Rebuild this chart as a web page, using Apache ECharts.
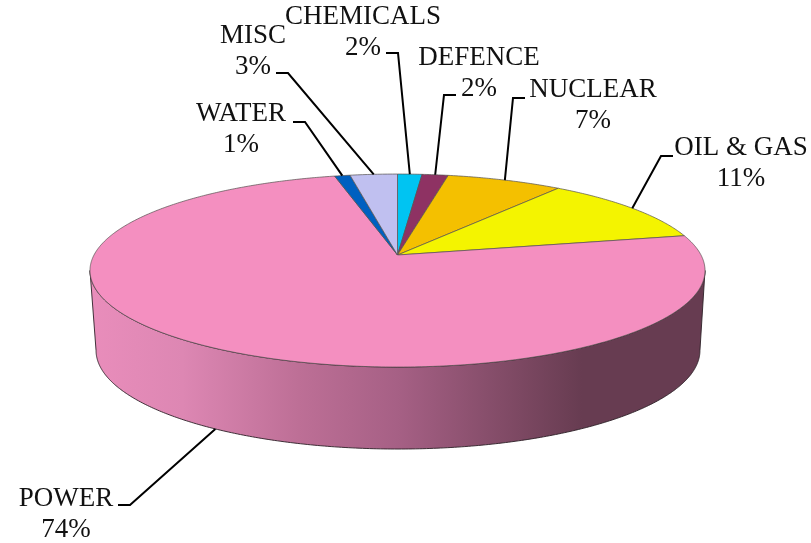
<!DOCTYPE html>
<html>
<head>
<meta charset="utf-8">
<style>html,body{margin:0;padding:0;background:#fff}#c{width:811px;height:543px}</style>
<script src="https://cdn.jsdelivr.net/npm/echarts@6/dist/echarts.min.js"></script>
</head>
<body>
<div id="c"></div>
<script>
// Data, clockwise from the top of the pie
const categories = ['CHEMICALS', 'DEFENCE', 'NUCLEAR', 'OIL & GAS', 'POWER', 'WATER', 'MISC'];
const values = [1.5, 1.6, 7.1, 11.4, 74.55, 0.95, 2.9];
const percentLabels = ['2%', '2%', '7%', '11%', '74%', '1%', '3%'];

// Styling and layout, per category
const sliceColors = ['#00c4f2', '#8e3263', '#f4c000', '#f4f400', '#f48fc0', '#0060c0', '#c0c0f0'];
const labelAnchors = [[363, 32], [479, 73], [593, 105], [741, 163], [66, 514], [241, 129], [253, 51]];
const elbows = [[[398, 53], [386, 53]], [[444, 95], [456, 95]], [[513, 98], [525, 98]], [[661, 156], [673, 156]],
                [[130, 505], [118, 505]], [[305, 122], [293, 122]], [[288, 73], [276, 73]]];

const FONT = '"Liberation Serif", serif';
const K = 0.161;
const topRim = { cx: 397.5, cy: 255, rx: 303.5, ry: 94 };
const baseRim = { cx: 398, cy: 334.6, rx: 298, ry: 96 };
const total = values.reduce((a, b) => a + b, 0);
const cumulative = values.map((_, i) => values.slice(0, i).reduce((a, b) => a + b, 0));
const TAU = Math.PI * 2;

// projects a clock angle on the pie disc to the screen, in perspective
function rimPoint(rim, t) {
  const u = Math.sin(t), v = -Math.cos(t), d = 1 - K * v;
  return [rim.cx + rim.rx * u / d, rim.cy + rim.ry * v / d];
}
function arc(rim, a, b) {
  const n = Math.max(2, Math.ceil(Math.abs(b - a) / 0.01));
  const pts = [];
  for (let i = 0; i <= n; i++) pts.push(rimPoint(rim, a + (b - a) * i / n));
  return pts;
}
const wallFrom = Math.PI / 2 + Math.asin(K);
const wallTo = TAU - wallFrom;
const wallFill = new echarts.graphic.LinearGradient(90, 0, 705, 0, [
  { offset: 0, color: '#e98dbb' },
  { offset: 0.15, color: '#dd87b3' },
  { offset: 0.34, color: '#bd6f96' },
  { offset: 0.5, color: '#a66085' },
  { offset: 0.7, color: '#7c4862' },
  { offset: 0.8, color: '#673c51' },
  { offset: 1, color: '#673c51' }
], true);

function renderSlice(params, api) {
  const i = params.dataIndex;
  const val = api.value(0);
  const a = cumulative[i] / total * TAU;
  const b = a + val / total * TAU;
  const mid = (a + b) / 2;
  const children = [];
  const wa = Math.max(a, wallFrom), wb = Math.min(b, wallTo);
  if (wb > wa) {
    const top = arc(topRim, wa, wb);
    const base = arc(baseRim, wa, wb).reverse();
    children.push({
      type: 'polygon',
      shape: { points: top.concat(base) },
      style: { fill: wallFill, stroke: '#2c2027', lineWidth: 0.9 }
    });
  }
  children.push({
    type: 'polygon',
    shape: { points: [[topRim.cx, topRim.cy]].concat(arc(topRim, a, b)) },
    style: { fill: sliceColors[i], stroke: '#55504f', lineWidth: 0.7, lineJoin: 'round' }
  });
  const onWall = mid > wallFrom && mid < wallTo;
  const start = rimPoint(onWall ? baseRim : topRim, mid);
  children.push({
    type: 'polyline',
    shape: { points: [start].concat(elbows[i]) },
    style: { fill: null, stroke: '#000', lineWidth: 2 },
    z2: 5
  });
  children.push({
    type: 'text',
    x: labelAnchors[i][0],
    y: labelAnchors[i][1],
    style: {
      text: categories[i] + '\n' + percentLabels[i],
      fill: '#111',
      fontFamily: FONT,
      fontSize: 27,
      lineHeight: 31,
      align: 'center',
      verticalAlign: 'middle'
    },
    z2: 6
  });
  return { type: 'group', children };
}

const chart = echarts.init(document.getElementById('c'), null, { renderer: 'canvas' });
chart.setOption({
  animation: false,
  backgroundColor: '#ffffff',
  tooltip: { show: false },
  series: [{
    type: 'custom',
    coordinateSystem: 'none',
    silent: true,
    clip: false,
    renderItem: renderSlice,
    data: values.map((v, i) => ({ name: categories[i], value: [v] }))
  }]
});
</script>
</body>
</html>
